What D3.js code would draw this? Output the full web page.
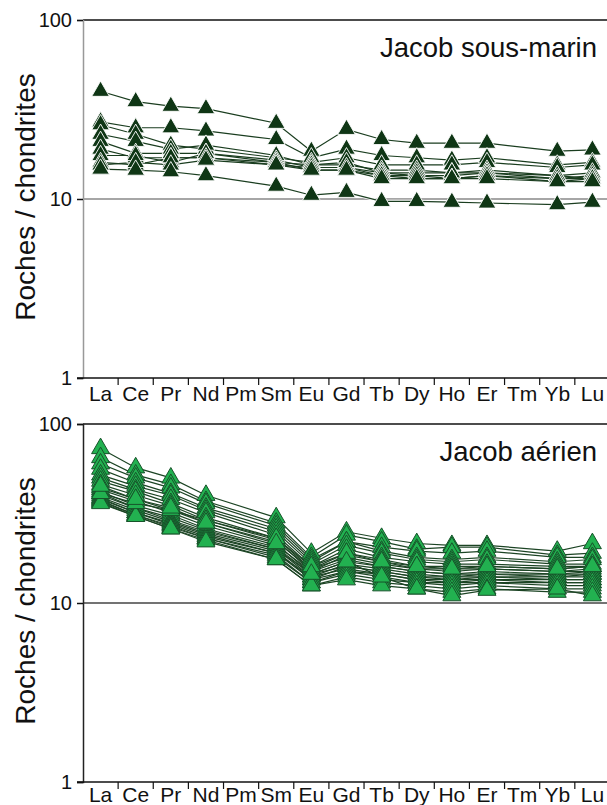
<!DOCTYPE html>
<html><head><meta charset="utf-8">
<script src="https://cdn.jsdelivr.net/npm/d3@7"></script>
<style>body{margin:0;background:#fff}svg{display:block;font-family:Arial,"Liberation Sans",sans-serif}</style>
</head><body><svg id="c" width="607" height="805"></svg>
<script>
const elements = ["La","Ce","Pr","Nd","Pm","Sm","Eu","Gd","Tb","Dy","Ho","Er","Tm","Yb","Lu"];
const measured = ["La","Ce","Pr","Nd","Sm","Eu","Gd","Tb","Dy","Ho","Er","Yb","Lu"];
const yTicks = [1, 10, 100];
const titleTop = "Jacob sous-marin";
const titleBottom = "Jacob aérien";
const yLabel = "Roches / chondrites";

// Jacob sous-marin (values in measured order)
const sousMarin = [
  [40, 35, 33, 32, 26.5, 18.5, 24.5, 21.5, 20.5, 20.5, 20.5, 18.5, 18.8],
  [27, 25, 25, 24, 21.5, 17, 19, 17.5, 17, 16.5, 17, 15.5, 16],
  [26, 23, 20, 19, 17, 16, 17, 15.5, 15.5, 15.5, 16, 15, 15.5],
  [23, 21, 19, 20, 17.5, 15.5, 15.5, 14.5, 14.5, 14, 14.5, 13.5, 14],
  [21, 18, 18, 18, 16.5, 15, 15, 14, 13.5, 13.5, 14, 13, 13.5],
  [19, 17, 17, 17, 16, 15.5, 16, 14, 14, 14, 14, 13.5, 13],
  [17.5, 17.5, 16, 18, 16, 14.5, 14.5, 13.5, 13, 13, 13.5, 13, 13],
  [16, 15.5, 17, 17, 15.5, 15, 15, 13.5, 13.5, 13, 13.5, 12.5, 13],
  [15.5, 16, 15.5, 16.5, 15.5, 14.5, 14.5, 13, 13, 13, 13, 12.5, 12.5],
  [14.7, 14.5, 14.2, 13.5, 11.8, 10.5, 10.9, 9.7, 9.7, 9.6, 9.5, 9.3, 9.6]
];

// Jacob aérien
const aerien = [
  [73, 57, 50, 40, 30, 19, 25, 23, 21.5, 21, 21, 19.5, 21.5],
  [65, 52, 46, 37, 28, 18, 24, 22, 20, 20.5, 20.5, 18.5, 19],
  [60, 50, 44, 36, 27, 17.5, 22, 20.5, 19.5, 19, 19.5, 18, 18],
  [56, 47, 41, 34, 26, 17, 22, 19.5, 18, 17.5, 18, 17, 17.5],
  [52, 45, 40, 33, 25, 16.5, 21, 19, 17.5, 17, 17.5, 16.5, 16.5],
  [50, 43, 38, 32, 24, 16, 20, 18, 17, 16.5, 16.5, 16, 16],
  [48, 42, 36, 30, 23, 15.5, 19, 17.5, 16, 16, 16, 15.5, 16],
  [46, 40, 35, 29, 22.5, 15, 18.5, 17, 15.5, 15.5, 15.5, 15, 15.5],
  [44, 38, 33, 28, 22, 15.5, 18, 16.5, 15.5, 15, 15.5, 15, 15],
  [43, 37, 32, 27, 21, 15, 17.5, 16, 15, 14.5, 15, 14.5, 15],
  [42, 35, 31, 26, 20.5, 14.5, 17, 16, 15, 14.5, 14.5, 14.5, 14.5],
  [41, 34, 30, 25.5, 20, 14, 16.5, 15.5, 14.5, 14, 14.5, 14, 14.5],
  [40, 34, 29, 25, 20, 14.5, 16, 15, 14, 14, 14, 14, 14],
  [39, 33, 28.5, 24.5, 19.5, 13.5, 16, 15, 14, 13.5, 14, 13.5, 13.5],
  [38.5, 32, 28, 24, 19, 14, 15.5, 14.5, 13.5, 13.5, 13.5, 13.5, 13.5],
  [38, 32, 27.5, 23.5, 19, 13.5, 15, 14.5, 13.5, 13, 13.5, 13, 13],
  [37.5, 31, 27, 23, 18.5, 13, 15, 14, 13, 13, 13, 13, 13],
  [37, 31, 26.5, 23, 18, 13, 14.5, 13.5, 13, 12.5, 13, 12.5, 12.5],
  [36.5, 30.5, 26, 22.5, 17.5, 12.5, 14, 13, 12.5, 12, 12.5, 12, 12],
  [36, 30.5, 26, 22, 17.5, 12.5, 13.5, 12.5, 12, 11.5, 12, 11.5, 11.5],
  [41, 36, 33, 29, 23, 16, 19, 17, 16, 15.5, 16, 15.5, 16],
  [45, 38, 34, 28, 21.5, 14.5, 17, 14, 12, 11, 11.8, 12, 11]
];

const svg = d3.select("#c");
const left = 83, band = 35.13;
const x = d3.scaleBand().domain(elements).range([left, left + band * elements.length]).padding(0);

function panel(top, bottom, data, title, opts) {
  const g = svg.append("g");
  const y = d3.scaleLog().domain([1, 100]).range([bottom, top]);
  const right = 607;
  g.append("line").attr("x1", left).attr("x2", right).attr("y1", y(10)).attr("y2", y(10))
    .attr("stroke", opts.grid).attr("stroke-width", 1.5);
  g.append("line").attr("x1", left).attr("x2", right).attr("y1", y(100)).attr("y2", y(100))
    .attr("stroke", "#111").attr("stroke-width", 1.5);
  const ya = g.append("g").attr("transform", `translate(${left},0)`)
    .call(d3.axisLeft(y).tickValues(yTicks).tickFormat(d3.format("d")).tickSize(6).tickPadding(5));
  ya.select(".domain").attr("stroke", opts.axis).attr("stroke-width", 1.5);
  ya.selectAll(".tick line").attr("stroke", "#111").attr("stroke-width", 1.5);
  ya.selectAll("text").attr("font-size", 20).attr("fill", "#111").attr("font-family", "Arial, Liberation Sans");
  const xa = g.append("g").attr("transform", `translate(0,${bottom})`)
    .call(d3.axisBottom(x).tickSize(0).tickPadding(opts.pad));
  xa.select(".domain").remove();
  xa.append("line").attr("x1", left - 6).attr("x2", right).attr("stroke", "#111").attr("stroke-width", 1.5);
  xa.selectAll(".tick text").attr("font-size", 21).attr("fill", "#111").attr("font-family", "Arial, Liberation Sans");
  g.append("g").selectAll("line").data(elements.slice(1)).join("line")
    .attr("x1", d => x(d)).attr("x2", d => x(d)).attr("y1", bottom).attr("y2", bottom + 7)
    .attr("stroke", "#111").attr("stroke-width", 1.2);
  g.append("text").attr("transform", `translate(35,${(top + bottom) / 2 - 2}) rotate(-90)`)
    .attr("text-anchor", "middle").attr("font-size", 28).attr("fill", "#111").text(yLabel);
  g.append("text").attr("x", 597).attr("y", top + 37).attr("text-anchor", "end")
    .attr("font-size", 27.5).attr("fill", "#111").text(title);

  const cx = d => x(d) + x.bandwidth() / 2;
  const line = d3.line().x(d => cx(d.el)).y(d => y(d.v));
  const series = data.map(arr => arr.map((v, i) => ({ el: measured[i], v })));
  if (opts.halo) {
    g.append("g").selectAll("path").data(series).join("path").attr("d", line)
      .attr("fill", "none").attr("stroke", "#fff").attr("stroke-width", 3);
  }
  g.append("g").selectAll("path").data(series).join("path").attr("d", line)
    .attr("fill", "none").attr("stroke", opts.line).attr("stroke-width", 1.2);
  const sym = d3.symbol().type(d3.symbolTriangle).size(opts.size);
  g.append("g").selectAll("path").data(series.flat()).join("path")
    .attr("d", sym).attr("transform", d => `translate(${cx(d.el)},${y(d.v)})`)
    .attr("fill", opts.fill).attr("stroke", opts.stroke).attr("stroke-width", opts.sw);
}

panel(20, 378, sousMarin, titleTop, {grid: "#888", axis: "#999", halo: true, line: "#1a3d1f",
  fill: "#0f3615", stroke: "#ffffff", sw: 0.9, size: 135, pad: 8});
panel(424, 782, aerien, titleBottom, {grid: "#444", axis: "#222", halo: false, line: "#1c4424",
  fill: "#22b150", stroke: "#17532a", sw: 1, size: 140, pad: 5});
</script></body></html>
